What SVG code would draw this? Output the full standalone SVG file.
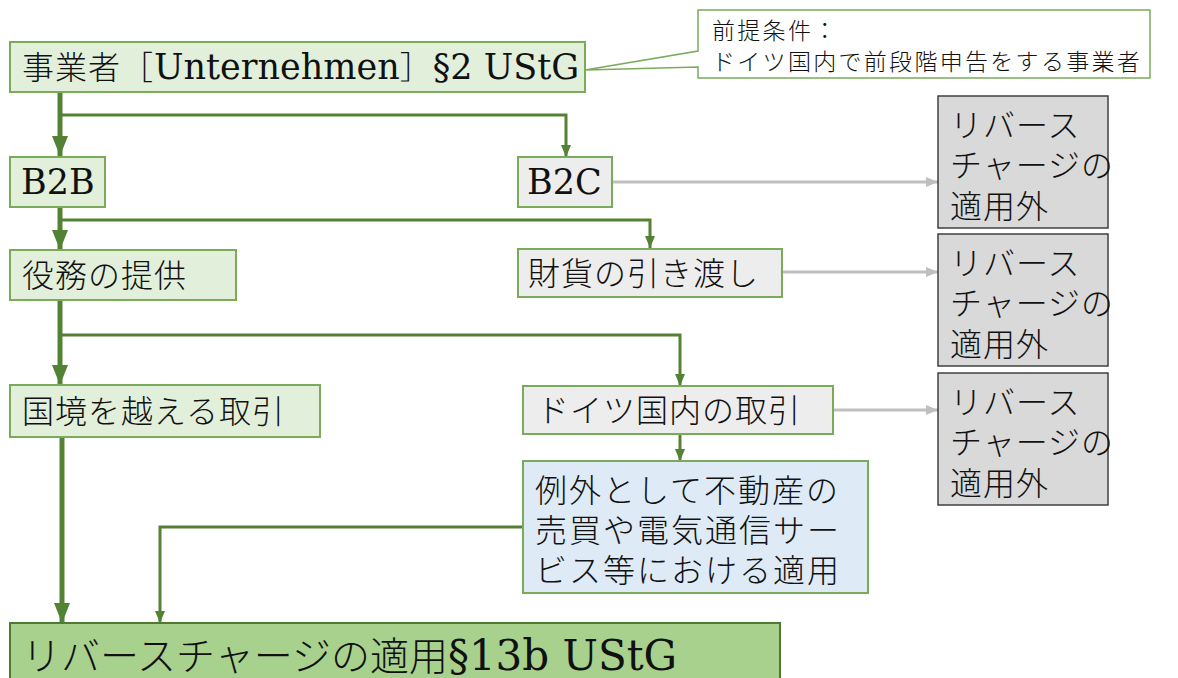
<svg xmlns="http://www.w3.org/2000/svg" width="1178" height="678" viewBox="0 0 1178 678">
<style>
text{font-family:"Liberation Serif","Noto Sans CJK JP",serif;font-weight:300;fill:#111}
.lat{font-family:"DejaVu Serif","Liberation Serif",serif;font-weight:400;letter-spacing:0}
.g{fill:#e2efda;stroke:#7aab5a;stroke-width:2}
.w{fill:#ededed;stroke:#7aab5a;stroke-width:2}
.b{fill:#deebf7;stroke:#7aab5a;stroke-width:2}
.r{fill:#d9d9d9;stroke:#404040;stroke-width:1.5}
.f{fill:#a9d18e;stroke:#4e7a33;stroke-width:2}
.t{font-size:32px;letter-spacing:1px}
.thick{fill:none;stroke:#548235;stroke-width:5}
.thin{fill:none;stroke:#548235;stroke-width:3}
.gray{fill:none;stroke:#bfbfbf;stroke-width:3}
</style>
<defs>
<marker id="ah" markerUnits="userSpaceOnUse" markerWidth="20" markerHeight="20" viewBox="0 0 20 20" refX="20" refY="10" orient="auto"><path d="M0,2 L20,10 L0,18 Z" fill="#548235"/></marker>
<marker id="as" markerUnits="userSpaceOnUse" markerWidth="12" markerHeight="12" viewBox="0 0 12 12" refX="12" refY="6" orient="auto"><path d="M0,1 L12,6 L0,11 Z" fill="#548235"/></marker>
<marker id="ag" markerUnits="userSpaceOnUse" markerWidth="12" markerHeight="12" viewBox="0 0 12 12" refX="12" refY="6" orient="auto"><path d="M0,1 L12,6 L0,11 Z" fill="#bfbfbf"/></marker>
</defs>

<g id="connectors">
<path class="thick" d="M60,92 V156" marker-end="url(#ah)"/>
<path class="thin" d="M60,115 H566 V157" marker-end="url(#as)"/>
<path class="thick" d="M60,207 V250" marker-end="url(#ah)"/>
<path class="thin" d="M60,220 H650 V248" marker-end="url(#as)"/>
<path class="thick" d="M60,300 V385" marker-end="url(#ah)"/>
<path class="thin" d="M60,335 H680 V386" marker-end="url(#as)"/>
<path class="thin" d="M680,434 V461" marker-end="url(#as)"/>
<path class="thick" d="M62,437 V623" marker-end="url(#ah)"/>
<path class="thin" d="M523,527 H160 V623" marker-end="url(#as)"/>
<path class="gray" d="M612,182 H938" marker-end="url(#ag)"/>
<path class="gray" d="M782,272 H938" marker-end="url(#ag)"/>
<path class="gray" d="M833,410 H938" marker-end="url(#ag)"/>
</g>

<g id="callout">
<path d="M698,10 H1150 V78 H698 V67 L585,70 L698,51 Z" fill="#fff" stroke="#7aab5a" stroke-width="1.5"/>
<text x="712" y="39" style="font-size:23px;letter-spacing:2.3px">前提条件：</text>
<text x="712" y="70" style="font-size:23px;letter-spacing:2.3px">ドイツ国内で前段階申告をする事業者</text>
</g>

<g id="node-unternehmer">
<rect class="g" x="10" y="42" width="575" height="50"/>
<text class="t" x="22" y="79">事業者［<tspan class="lat" font-size="35">Unternehmen</tspan>］<tspan class="lat" font-size="35">§2 UStG</tspan></text>
</g>
<g id="node-b2b">
<rect class="g" x="10" y="157" width="95" height="50"/>
<text class="lat" x="21" y="194" font-size="35">B2B</text>
</g>
<g id="node-b2c">
<rect class="w" x="518" y="157" width="94" height="50"/>
<text class="lat" x="527" y="194" font-size="35">B2C</text>
</g>
<g id="node-rc-out-1">
<rect class="r" x="938" y="96" width="170" height="132"/>
<text class="t" x="950" y="137">リバース</text>
<text class="t" x="950" y="177">チャージの</text>
<text class="t" x="950" y="218">適用外</text>
</g>
<g id="node-service">
<rect class="g" x="10" y="250" width="226" height="50"/>
<text class="t" x="22" y="287">役務の提供</text>
</g>
<g id="node-goods">
<rect class="w" x="518" y="249" width="264" height="48"/>
<text class="t" x="528" y="285">財貨の引き渡し</text>
</g>
<g id="node-rc-out-2">
<rect class="r" x="938" y="234" width="170" height="132"/>
<text class="t" x="950" y="275">リバース</text>
<text class="t" x="950" y="315">チャージの</text>
<text class="t" x="950" y="356">適用外</text>
</g>
<g id="node-crossborder">
<rect class="g" x="10" y="385" width="310" height="52"/>
<text class="t" x="22" y="423">国境を越える取引</text>
</g>
<g id="node-domestic">
<rect class="w" x="523" y="386" width="310" height="48"/>
<text class="t" x="537" y="422">ドイツ国内の取引</text>
</g>
<g id="node-rc-out-3">
<rect class="r" x="938" y="373" width="170" height="132"/>
<text class="t" x="950" y="414">リバース</text>
<text class="t" x="950" y="454">チャージの</text>
<text class="t" x="950" y="495">適用外</text>
</g>
<g id="node-exception">
<rect class="b" x="523" y="461" width="345" height="132"/>
<text class="t" x="535" y="502" style="letter-spacing:2px">例外として不動産の</text>
<text class="t" x="535" y="542" style="letter-spacing:2px">売買や電気通信サー</text>
<text class="t" x="535" y="582" style="letter-spacing:2px">ビス等における適用</text>
</g>
<g id="node-reverse-charge">
<rect class="f" x="10" y="623" width="770" height="70"/>
<text x="22" y="670" style="font-size:39px">リバースチャージの適用<tspan class="lat" font-size="42">§13b UStG</tspan></text>
</g>
</svg>
